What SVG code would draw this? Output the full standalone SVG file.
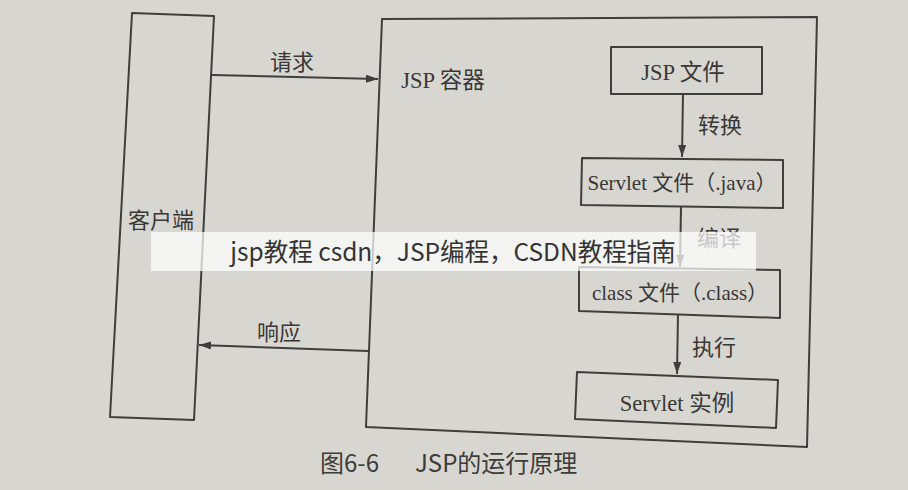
<svg xmlns="http://www.w3.org/2000/svg" width="908" height="490" viewBox="0 0 908 490">
<style>
.box{fill:none;stroke:#3e3e3c;stroke-width:2;stroke-linejoin:round}
.ln{fill:none;stroke:#3e3e3c;stroke-width:2}
.t{font-family:"Liberation Serif","Noto Sans CJK SC",serif;font-size:22.5px;fill:#383836;text-anchor:middle}
.t2{font-size:21px}
.lb{font-family:"Noto Sans CJK SC",sans-serif;font-size:22px;fill:#383836;text-anchor:middle}
.cap{font-family:"Noto Sans CJK SC",sans-serif;font-size:24px;fill:#3c3c3a}
.wm{font-family:"Noto Sans CJK SC",sans-serif;font-size:24.5px;fill:#333;text-anchor:middle}
</style>
<defs>
<marker id="ah" viewBox="0 0 12 8" refX="12" refY="4" markerWidth="12" markerHeight="8" markerUnits="userSpaceOnUse" orient="auto">
<path d="M0,0 L12,4 L0,8 Z" fill="#3e3e3c"/>
</marker>
</defs>
<rect width="908" height="490" fill="#d8d6d1"/>
<g id="client">
<polygon class="box" points="132,13 214,16 194,420 110,417"/>
<text class="lb" x="161" y="228">客户端</text>
</g>
<g id="container">
<polygon class="box" points="382,19 817,17 807,447 366,427"/>
<text class="t" x="443" y="88">JSP 容器</text>
</g>
<g id="jspfile">
<polygon class="box" points="611,47 762,47 762,94 611,94"/>
<text class="t" x="683" y="80">JSP 文件</text>
</g>
<g id="servletjava">
<polygon class="box" points="582,158 783,160 783,208 581,205"/>
<text class="t t2" x="682" y="190">Servlet 文件（.java）</text>
</g>
<g id="classfile">
<polygon class="box" points="579,267 780,270 780,318 579,311"/>
<text class="t t2" x="680" y="300">class 文件（.class）</text>
</g>
<g id="servletinst">
<polygon class="box" points="577,372 778,380 776,428 575,419"/>
<text class="t" x="677" y="411">Servlet 实例</text>
</g>
<g id="connectors">
<line class="ln" x1="212" y1="75" x2="378" y2="79" marker-end="url(#ah)"/>
<text class="lb" x="292" y="70">请求</text>
<line class="ln" x1="368" y1="351" x2="199" y2="345" marker-end="url(#ah)"/>
<text class="lb" x="279" y="340">响应</text>
<line class="ln" x1="683" y1="94" x2="682" y2="157" marker-end="url(#ah)"/>
<text class="lb" x="720" y="133">转换</text>
<line class="ln" x1="681" y1="207" x2="680" y2="267" marker-end="url(#ah)"/>
<text class="lb" x="719" y="246">编译</text>
<line class="ln" x1="678" y1="314" x2="677" y2="374" marker-end="url(#ah)"/>
<text class="lb" x="714" y="355">执行</text>
</g>
<text class="cap" x="320" y="472">图6-6</text>
<text class="cap" x="415" y="472">JSP的运行原理</text>
<rect x="151" y="232" width="605" height="39" fill="#ffffff" fill-opacity="0.72"/>
<text class="wm" x="453" y="261">jsp教程 csdn，JSP编程，CSDN教程指南</text>
</svg>
